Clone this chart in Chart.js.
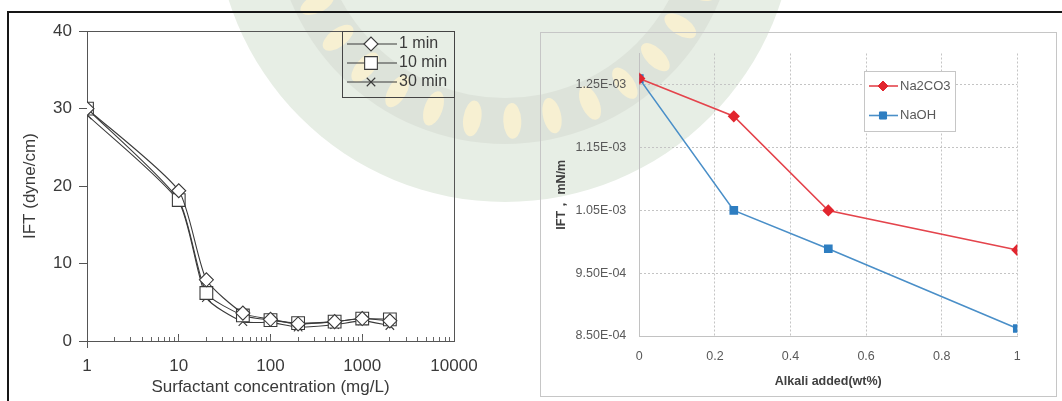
<!DOCTYPE html>
<html lang="en">
<head>
<meta charset="UTF-8">
<title>IFT vs surfactant concentration and alkali added</title>
<script src="https://cdn.jsdelivr.net/npm/chart.js"></script>
<style>
  body { margin: 0; width: 1062px; height: 401px; overflow: hidden; background: #fff; position: relative; }
  #bg { position: absolute; left: 0; top: 0; }
  .edge-top { position: absolute; left: 7px; top: 11px; width: 1055px; height: 2px; background: #161616; }
  .edge-left { position: absolute; left: 7px; top: 11px; width: 2px; height: 390px; background: #161616; }
  #left { position: absolute; left: 10px; top: 14px; }
  .box-right { position: absolute; left: 540px; top: 32px; width: 515px; height: 363px; border: 1px solid #c6c6c6; }
  #right { position: absolute; left: 0; top: 0; }
</style>
</head>
<body>
<canvas id="bg" width="1062" height="401"></canvas>
<div class="edge-top"></div>
<div class="edge-left"></div>
<canvas id="left" width="520" height="387"></canvas>
<div class="box-right"><canvas id="right" width="515" height="363"></canvas></div>
<script>
// left panel: IFT vs surfactant concentration
const concentration = [1, 10, 20, 50, 100, 200, 500, 1000, 2000];
const ift1min  = [30.0, 19.4, 7.9, 3.6, 2.8, 2.2, 2.5, 2.9, 2.6];
const ift10min = [30.0, 18.2, 6.2, 3.3, 2.7, 2.3, 2.5, 2.9, 2.8];
const ift30min = [29.2, 18.0, 5.6, 2.5, 2.4, 1.8, 2.1, 2.6, 2.0];
const xMajorTicks = [1, 10, 100, 1000, 10000];
const yLeftTicks = [0, 10, 20, 30, 40];

// right panel: IFT vs alkali added
const alkali = [0, 0.25, 0.5, 1];
const na2co3 = [1.26e-3, 1.20e-3, 1.05e-3, 9.87e-4];
const naoh   = [1.26e-3, 1.05e-3, 9.89e-4, 8.62e-4];
const yRightTicks = [8.5e-4, 9.5e-4, 1.05e-3, 1.15e-3, 1.25e-3];

const xMinorTicks = [];
xMajorTicks.slice(0, -1).forEach(d => { for (let k = 1; k <= 9; k++) xMinorTicks.push(d * k); });
xMinorTicks.push(xMajorTicks[xMajorTicks.length - 1]);

const family = '"Liberation Sans", Arial, sans-serif';
Chart.defaults.font.family = family;
const ink = '#3a3a3a';
const leftFont = { family: family, size: 17 };

// faint logo watermark behind both panels
function drawWatermark() {
    const g = document.getElementById('bg').getContext('2d');
    const cx = 505, cy = -88;
    g.fillStyle = '#e7eee5';
    g.beginPath(); g.arc(cx, cy, 290, 0, Math.PI * 2); g.fill();
    g.fillStyle = '#dde3da';
    g.beginPath(); g.arc(cx, cy, 232, 0, Math.PI * 2); g.fill();
    g.fillStyle = '#e7eee5';
    g.beginPath(); g.arc(cx, cy, 186, 0, Math.PI * 2); g.fill();
    g.fillStyle = '#f7f0d2';
    for (let a = 0; a < 360; a += 11) {
        const r = a * Math.PI / 180;
        g.beginPath();
        g.ellipse(cx + Math.cos(r) * 209, cy + Math.sin(r) * 209, 18, 9, r, 0, Math.PI * 2);
        g.fill();
    }
}
drawWatermark();

function series(label, values, style, radius) {
    return {
        label: label,
        data: concentration.map((c, i) => ({ x: c, y: values[i] })),
        borderColor: ink,
        borderWidth: 1.1,
        pointStyle: style,
        pointRadius: radius,
        pointBackgroundColor: '#fff',
        pointBorderColor: ink,
        pointBorderWidth: 1.1,
        tension: 0.2
    };
}

const leftFrame = {
    id: 'leftFrame',
    beforeDatasetsDraw(chart) {
        const { ctx, chartArea: a } = chart;
        ctx.save();
        ctx.strokeStyle = '#555';
        ctx.lineWidth = 1;
        ctx.strokeRect(Math.round(a.left) + 0.5, Math.round(a.top) + 0.5, Math.round(a.right - a.left), Math.round(a.bottom - a.top));
        ctx.beginPath();
        ctx.moveTo(Math.round(a.left) + 0.5, a.bottom);
        ctx.lineTo(Math.round(a.left) + 0.5, a.bottom + 7);
        ctx.stroke();
        ctx.restore();
    }
};

const leftLegend = {
    id: 'leftLegend',
    afterDraw(chart) {
        const { ctx, chartArea: a } = chart;
        const w = 112, h = 66;
        const x0 = Math.round(a.right) - w, y0 = Math.round(a.top);
        ctx.save();
        ctx.lineWidth = 1;
        ctx.strokeStyle = '#444';
        ctx.strokeRect(x0 + 0.5, y0 + 0.5, w, h);
        chart.data.datasets.forEach((ds, i) => {
            const y = y0 + 13 + i * 19;
            ctx.strokeStyle = ds.borderColor;
            ctx.lineWidth = 1.1;
            ctx.beginPath(); ctx.moveTo(x0 + 5, y); ctx.lineTo(x0 + 55, y); ctx.stroke();
            ctx.fillStyle = '#fff';
            Chart.helpers.drawPoint(ctx, { pointStyle: ds.pointStyle, radius: ds.pointRadius, borderWidth: 1.1, rotation: 0 }, x0 + 29, y);
            ctx.fillStyle = ink;
            ctx.font = '16px ' + family;
            ctx.textBaseline = 'middle';
            ctx.textAlign = 'left';
            ctx.fillText(ds.label, x0 + 57, y);
        });
        ctx.restore();
    }
};

new Chart(document.getElementById('left'), {
    type: 'line',
    data: {
        datasets: [
            series('1 min', ift1min, 'rectRot', 7),
            series('10 min', ift10min, 'rect', 9),
            series('30 min', ift30min, 'crossRot', 6)
        ]
    },
    options: {
        responsive: false,
        animation: false,
        layout: { padding: { left: 0, top: 16, right: 76, bottom: 0 } },
        plugins: { legend: { display: false }, tooltip: { enabled: false } },
        scales: {
            x: {
                type: 'logarithmic', min: 1, max: 10000,
                afterBuildTicks: s => { s.ticks = xMajorTicks.map(v => ({ value: v })); },
                afterFit: s => { s.height = 60; },
                ticks: { color: ink, font: leftFont, padding: 22, maxRotation: 0, autoSkip: false, callback: v => String(v) },
                grid: { drawOnChartArea: false, tickLength: -7, tickColor: '#555' },
                border: { color: '#555' },
                title: { display: true, text: 'Surfactant concentration (mg/L)', color: ink, font: leftFont, padding: { top: 0, bottom: 3 } }
            },
            xMinor: {
                axis: 'x', type: 'logarithmic', position: { y: 0 }, min: 1, max: 10000,
                afterBuildTicks: s => { s.ticks = xMinorTicks.map(v => ({ value: v })); },
                ticks: { display: false },
                grid: { drawOnChartArea: false, tickLength: -4, tickColor: '#666' },
                border: { display: false }
            },
            y: {
                min: 0, max: 40,
                afterBuildTicks: s => { s.ticks = yLeftTicks.map(v => ({ value: v })); },
                afterFit: s => { s.width = 77; },
                ticks: { color: ink, font: leftFont, padding: 7 },
                grid: { drawOnChartArea: false, tickLength: 8, tickColor: '#555' },
                border: { color: '#555' },
                title: { display: true, text: 'IFT (dyne/cm)', color: ink, font: leftFont, padding: { top: 10, bottom: 0 } }
            }
        }
    },
    plugins: [leftFrame, leftLegend]
});

// right panel
const grey = '#595959';
const rFont = { family: family, size: 12.5 };
const rTitleFont = { family: family, size: 12.5, weight: 'bold' };

function sci(v) {
    const parts = Number(v).toExponential(2).split('e');
    const e = parseInt(parts[1], 10);
    return parts[0] + 'E' + (e < 0 ? '-' : '+') + String(Math.abs(e)).padStart(2, '0');
}

const rightLegend = {
    id: 'rightLegend',
    afterDraw(chart) {
        const { ctx, chartArea: a } = chart;
        const w = 91, h = 60;
        const x0 = Math.round(a.right - 153), y0 = Math.round(a.top + 17);
        ctx.save();
        ctx.fillStyle = '#fff';
        ctx.fillRect(x0, y0, w, h);
        ctx.strokeStyle = '#c6c6c6';
        ctx.lineWidth = 1;
        ctx.strokeRect(x0 + 0.5, y0 + 0.5, w, h);
        chart.data.datasets.forEach((ds, i) => {
            const y = y0 + 15 + i * 29.5;
            ctx.strokeStyle = ds.borderColor;
            ctx.lineWidth = ds.borderWidth;
            ctx.beginPath(); ctx.moveTo(x0 + 5, y); ctx.lineTo(x0 + 34, y); ctx.stroke();
            ctx.fillStyle = ds.pointBackgroundColor;
            ctx.strokeStyle = ds.pointBorderColor;
            ctx.lineWidth = 1;
            Chart.helpers.drawPoint(ctx, { pointStyle: ds.pointStyle, radius: ds.pointRadius, borderWidth: 1, rotation: 0 }, x0 + 19, y);
            ctx.fillStyle = grey;
            ctx.font = '13px ' + family;
            ctx.textBaseline = 'middle';
            ctx.textAlign = 'left';
            ctx.fillText(ds.label, x0 + 36, y);
        });
        ctx.restore();
    }
};

new Chart(document.getElementById('right'), {
    type: 'line',
    data: {
        datasets: [
            {
                label: 'Na2CO3',
                data: alkali.map((x, i) => ({ x: x, y: na2co3[i] })),
                borderColor: '#e4444c', borderWidth: 1.6,
                pointStyle: 'rectRot', pointRadius: 5,
                pointBackgroundColor: '#e2262f', pointBorderColor: '#e2262f'
            },
            {
                label: 'NaOH',
                data: alkali.map((x, i) => ({ x: x, y: naoh[i] })),
                borderColor: '#4a8fc8', borderWidth: 1.6,
                pointStyle: 'rect', pointRadius: 5,
                pointBackgroundColor: '#2e7ec1', pointBorderColor: '#2e7ec1'
            }
        ]
    },
    options: {
        responsive: false,
        animation: false,
        layout: { padding: { left: 0, top: 17, right: 38.7, bottom: 0 } },
        plugins: { legend: { display: false }, tooltip: { enabled: false } },
        scales: {
            x: {
                type: 'linear', min: 0, max: 1,
                afterFit: s => { s.height = 60; },
                ticks: { stepSize: 0.2, color: grey, font: rFont, padding: 13, callback: v => String(Math.round(v * 10) / 10) },
                grid: { color: '#c4c4c4', drawTicks: false },
                border: { color: '#c2c2c2', dash: [2, 2] },
                title: { display: true, text: 'Alkali added(wt%)', color: '#404040', font: rTitleFont, padding: { top: 0, bottom: 7 } }
            },
            y: {
                min: 8.5e-4, max: 1.3e-3,
                afterBuildTicks: s => { s.ticks = yRightTicks.map(v => ({ value: v })); },
                afterFit: s => { s.width = 98.3; },
                ticks: { color: grey, font: rFont, padding: 13, callback: v => sci(v) },
                grid: { color: '#c4c4c4', drawTicks: false },
                border: { color: '#c2c2c2', dash: [2, 2] },
                title: { display: true, text: 'IFT， mN/m', color: '#404040', font: rTitleFont, padding: { top: 13.5, bottom: 0 } }
            }
        }
    },
    plugins: [rightLegend]
});
</script>
</body>
</html>
